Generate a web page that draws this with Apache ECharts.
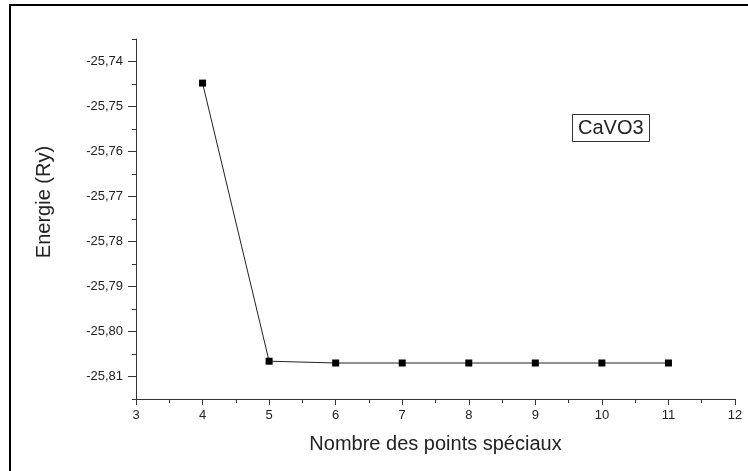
<!DOCTYPE html>
<html>
<head>
<meta charset="utf-8">
<script src="https://cdn.jsdelivr.net/npm/echarts@6/dist/echarts.min.js"></script>
<style>html,body{margin:0;padding:0;background:#fff;}#c{width:748px;height:471px;}</style>
</head>
<body>
<div id="c"></div>
<script>
// ---- data ----
var kPoints = [4, 5, 6, 7, 8, 9, 10, 11];
var energy = [-25.7448, -25.8066, -25.8070, -25.8070, -25.8070, -25.8070, -25.8070, -25.8070];
var xTicks = [3, 4, 5, 6, 7, 8, 9, 10, 11, 12];
var yTicks = [-25.81, -25.80, -25.79, -25.78, -25.77, -25.76, -25.75, -25.74];
var yMinorTicks = [-25.815, -25.805, -25.795, -25.785, -25.775, -25.765, -25.755, -25.745, -25.735];
var seriesLabel = 'CaVO3';
var xTitle = 'Nombre des points spéciaux';
var yTitle = 'Energie (Ry)';

var pts = kPoints.map(function (k, i) { return [k, energy[i]]; });
var axisColor = '#333';
var font = 'Liberation Sans, Arial, sans-serif';

var chart = echarts.init(document.getElementById('c'), null, {renderer: 'canvas'});
chart.setOption({
  animation: false,
  backgroundColor: '#fff',
  title: {
    text: seriesLabel,
    left: 572, top: 114,
    padding: [4, 6, 4, 6],
    borderColor: '#333', borderWidth: 1,
    textStyle: {fontFamily: font, fontSize: 20, fontWeight: 'normal', color: '#222'}
  },
  graphic: [{
    type: 'rect', silent: true,
    shape: {x: 10, y: 5, width: 780, height: 500},
    style: {fill: 'none', stroke: '#000', lineWidth: 2}
  }],
  grid: {left: 136, right: 13, top: 39, bottom: 72},
  xAxis: {
    type: 'value', min: 3, max: 12, interval: 1,
    name: xTitle, nameLocation: 'middle', nameGap: 35,
    nameTextStyle: {fontFamily: font, fontSize: 20, color: '#222'},
    axisLine: {show: true, lineStyle: {color: axisColor, width: 1}},
    axisTick: {show: true, inside: false, length: 6, lineStyle: {color: axisColor}, customValues: xTicks},
    minorTick: {show: true, splitNumber: 2, length: 4, lineStyle: {color: axisColor}},
    axisLabel: {fontFamily: font, fontSize: 13, color: '#222', margin: 10, customValues: xTicks},
    splitLine: {show: false}, minorSplitLine: {show: false}
  },
  yAxis: [{
    type: 'value', min: -25.815, max: -25.735,
    name: yTitle, nameLocation: 'middle', nameGap: 82,
    nameTextStyle: {fontFamily: font, fontSize: 20, color: '#222', padding: [0, 0, 0, 34]},
    axisLine: {show: true, lineStyle: {color: axisColor, width: 1}},
    axisTick: {show: true, inside: false, length: 8, lineStyle: {color: axisColor}, customValues: yTicks},
    axisLabel: {fontFamily: font, fontSize: 13, color: '#222', margin: 13, customValues: yTicks,
      formatter: function (v) { return v.toFixed(2).replace('.', ','); }},
    splitLine: {show: false}
  }, {
    type: 'value', min: -25.815, max: -25.735, position: 'left',
    axisLine: {show: false},
    axisTick: {show: true, inside: false, length: 4, lineStyle: {color: axisColor}, customValues: yMinorTicks},
    axisLabel: {show: false},
    splitLine: {show: false}
  }],
  series: [{
    type: 'line', data: pts, yAxisIndex: 0,
    symbol: 'rect', symbolSize: 7,
    itemStyle: {color: '#000'},
    lineStyle: {color: '#222', width: 1},
    z: 3
  }]
});
</script>
</body>
</html>
